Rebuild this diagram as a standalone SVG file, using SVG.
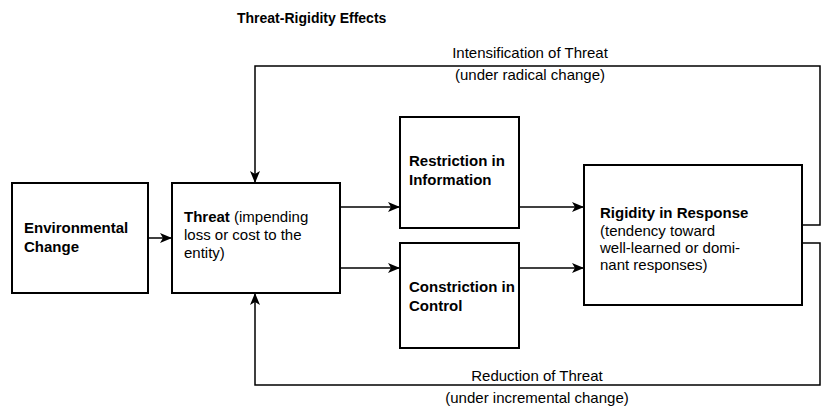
<svg xmlns="http://www.w3.org/2000/svg" width="840" height="410" viewBox="0 0 840 410">
<style>
.b{fill:#fff;stroke:#000;stroke-width:2}
.t{font-family:"Liberation Sans",Arial,sans-serif;font-size:15px;fill:#000}
.bd{font-weight:bold}
.c{fill:none;stroke:#000;stroke-width:1.5}
</style>
<defs><marker id="a" markerWidth="12" markerHeight="10" refX="11" refY="5" orient="auto" markerUnits="userSpaceOnUse"><path d="M0,0 L12,5 L0,10 L3,5 Z" fill="#000"/></marker></defs>
<rect width="840" height="410" fill="#fff"/>
<text class="t bd" x="237" y="23" style="font-size:14px">Threat-Rigidity Effects</text>
<g id="env"><rect class="b" x="12" y="183" width="136" height="110"/><text class="t bd" x="24" y="233">Environmental</text><text class="t bd" x="24" y="252">Change</text></g>
<g id="threat"><rect class="b" x="172" y="183" width="168" height="110"/><text class="t" x="184" y="222"><tspan class="bd">Threat</tspan> (impending</text><text class="t" x="184" y="240">loss or cost to the</text><text class="t" x="184" y="258">entity)</text></g>
<g id="restr"><rect class="b" x="400" y="117" width="119" height="111"/><text class="t bd" x="409" y="166">Restriction in</text><text class="t bd" x="409" y="185">Information</text></g>
<g id="constr"><rect class="b" x="400" y="243" width="119" height="105"/><text class="t bd" x="409" y="292">Constriction in</text><text class="t bd" x="409" y="311">Control</text></g>
<g id="rigid"><rect class="b" x="584" y="165" width="218" height="140"/><text class="t bd" x="600" y="218">Rigidity in Response</text><text class="t" x="600" y="236">(tendency toward</text><text class="t" x="600" y="253">well-learned or domi-</text><text class="t" x="600" y="270">nant responses)</text></g>
<g id="connectors">
<line class="c" x1="148" y1="238" x2="171" y2="238" marker-end="url(#a)"/>
<line class="c" x1="340" y1="207" x2="399" y2="207" marker-end="url(#a)"/>
<line class="c" x1="340" y1="268" x2="399" y2="268" marker-end="url(#a)"/>
<line class="c" x1="519" y1="207" x2="583" y2="207" marker-end="url(#a)"/>
<line class="c" x1="519" y1="268" x2="583" y2="268" marker-end="url(#a)"/>
<polyline class="c" points="802,225 820,225 820,66 255,66 255,182" marker-end="url(#a)"/>
<polyline class="c" points="802,243 820,243 820,385 255,385 255,294" marker-end="url(#a)"/>
</g>
<text class="t" x="530" y="58" text-anchor="middle">Intensification of Threat</text>
<text class="t" x="530" y="80" text-anchor="middle">(under radical change)</text>
<text class="t" x="537" y="381" text-anchor="middle">Reduction of Threat</text>
<text class="t" x="537" y="403" text-anchor="middle">(under incremental change)</text>
</svg>
